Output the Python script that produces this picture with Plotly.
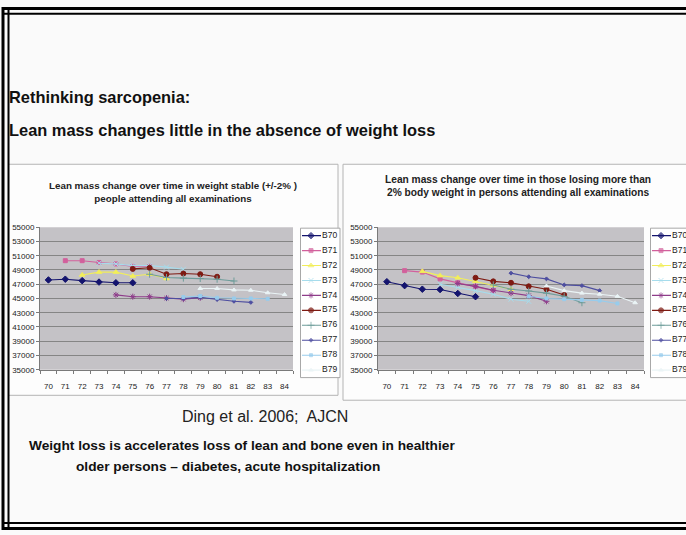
import plotly.graph_objects as go

W, H = 686, 535

ages = list(range(70, 85))
cohorts = ["B70", "B71", "B72", "B73", "B74", "B75", "B76", "B77", "B78", "B79"]
y_ticks = list(range(35000, 55001, 2000))

# Left chart: weight stable (+/-2%) – each cohort Bxx measured at ages xx .. xx+5
stable_b70 = [47600, 47700, 47500, 47300, 47200, 47200]
stable_b71 = [50300, 50300, 50050, 49850, 49500, 49500]
stable_b72 = [48300, 48700, 48700, 48150, 48400, 47800]
stable_b73 = [49950, 49850, 49600, 49600, 49400, 49100]
stable_b74 = [45500, 45250, 45250, 45050, 44900, 45100]
stable_b75 = [49150, 49300, 48400, 48500, 48400, 48050]
stable_b76 = [48400, 47950, 47850, 47800, 47700, 47450]
stable_b77 = [45000, 45000, 45150, 44850, 44600, 44450]
stable_b78 = [45200, 45350, 45100, 45000, 45000, 44950]
stable_b79 = [46400, 46400, 46200, 46150, 45800, 45550]

# Right chart: losing more than 2% body weight
loss_b70 = [47350, 46800, 46300, 46250, 45700, 45250]
loss_b71 = [48900, 48700, 47750, 47200, 46700, 46100]
loss_b72 = [48800, 48200, 47900, 47400, 46900, 46300]
loss_b73 = [47000, 46600, 46100, 45600, 44900, 44600]
loss_b74 = [47100, 46700, 46150, 45750, 45400, 44600]
loss_b75 = [47900, 47400, 47200, 46700, 46300, 45500]
loss_b76 = [46900, 46300, 46050, 45750, 45300, 44400]
loss_b77 = [48550, 48050, 47750, 46900, 46800, 46100]
loss_b78 = [45300, 45000, 44900, 44800, 44700, 44300]
loss_b79 = [46750, 46100, 45750, 45600, 45300, 44400]

stable = [stable_b70, stable_b71, stable_b72, stable_b73, stable_b74,
          stable_b75, stable_b76, stable_b77, stable_b78, stable_b79]
loss = [loss_b70, loss_b71, loss_b72, loss_b73, loss_b74,
        loss_b75, loss_b76, loss_b77, loss_b78, loss_b79]

colors = ["#14146e", "#d2609c", "#f2ee5a", "#a6dcec", "#8e3c8a",
          "#7e1a12", "#6e9c9a", "#4e4ea0", "#98ccec", "#eaf4f6"]
symbols = ["diamond", "square", "triangle-up", "x-thin-open", "asterisk-open",
           "circle", "cross-thin-open", "diamond", "square", "triangle-up"]
sizes = [5, 4, 5, 5, 5, 5, 5, 3, 3, 4]


def px(x):
    return x / W


def py(y):
    return 1 - y / H


TXT = "Liberation Sans"
BOLD_T = "Liberation Sans"

fig = go.Figure()

# ---- data traces
for side, data in ((1, stable), (2, loss)):
    xa = "x" if side == 1 else "x2"
    ya = "y" if side == 1 else "y2"
    for k, vals in enumerate(data):
        fig.add_trace(go.Scatter(
            x=ages[k:k + len(vals)], y=vals, xaxis=xa, yaxis=ya,
            mode="lines+markers", name=cohorts[k], showlegend=False,
            line=dict(color=colors[k], width=1.1),
            marker=dict(symbol=symbols[k], size=sizes[k], color=colors[k],
                        line=dict(color=colors[k], width=1)),
        ))

# ---- legends drawn as small subplots
for side in (1, 2):
    xa = "x3" if side == 1 else "x4"
    ya = "y3" if side == 1 else "y4"
    for k, name in enumerate(cohorts):
        fig.add_trace(go.Scatter(
            x=[1, 10, 20], y=[k, k, k], xaxis=xa, yaxis=ya, mode="lines+markers",
            showlegend=False, hoverinfo="skip", cliponaxis=False,
            line=dict(color=colors[k], width=1.1),
            marker=dict(symbol=symbols[k], size=[0, sizes[k], 0], color=colors[k],
                        line=dict(color=colors[k], width=1)),
        ))
    fig.add_trace(go.Scatter(
        x=[21] * len(cohorts), y=list(range(len(cohorts))), xaxis=xa, yaxis=ya,
        mode="text", text=cohorts, textposition="middle right", cliponaxis=False,
        showlegend=False, hoverinfo="skip",
        textfont=dict(family=TXT, size=8.5, color="#222"),
    ))

axis_common = dict(showgrid=False, zeroline=False)
x_common = dict(range=[69.5, 84.5], tickvals=ages, ticktext=[str(a) for a in ages],
                ticks="", showline=True, linecolor="#7a7a7a", linewidth=1,
                ticklabelstandoff=9,
                tickfont=dict(family=TXT, size=8, color="#222"),
                minor=dict(tickvals=[a + 0.5 for a in ages[:-1]] + [69.5, 84.5],
                           ticks="outside", ticklen=3, tickcolor="#7a7a7a"),
                **axis_common)
y_common = dict(range=[35000, 55000], tickvals=y_ticks, ticktext=[str(v) for v in y_ticks],
                ticks="outside", ticklen=3, tickcolor="#7a7a7a",
                showline=True, linecolor="#7a7a7a", linewidth=1,
                showgrid=True, gridcolor="#858585", gridwidth=1, zeroline=False,
                tickfont=dict(family=TXT, size=8, color="#222"))

y_dom = [py(372), py(227)]
fig.update_layout(
    xaxis=dict(domain=[px(40), px(293)], anchor="y", **x_common),
    yaxis=dict(domain=y_dom, anchor="x", **y_common),
    xaxis2=dict(domain=[px(378), px(644)], anchor="y2", **x_common),
    yaxis2=dict(domain=y_dom, anchor="x2", **y_common),
    xaxis3=dict(domain=[px(301), px(340)], range=[0, 39], visible=False, anchor="y3"),
    yaxis3=dict(domain=[py(380), py(228)], range=[9.5, -0.5], visible=False, anchor="x3"),
    xaxis4=dict(domain=[px(651), 1.0], range=[0, 35], visible=False, anchor="y4"),
    yaxis4=dict(domain=[py(380), py(228)], range=[9.5, -0.5], visible=False, anchor="x4"),
)

shapes = []
# chart boxes
shapes.append(dict(type="rect", xref="paper", yref="paper", x0=px(8), x1=px(338),
                   y0=py(398), y1=py(163), fillcolor="#fdfdfd",
                   line=dict(color="#b4b4b4", width=1), layer="below"))
shapes.append(dict(type="rect", xref="paper", yref="paper", x0=px(343), x1=px(692),
                   y0=py(403), y1=py(163), fillcolor="#fdfdfd",
                   line=dict(color="#b4b4b4", width=1), layer="below"))
# plot areas (gray)
for xa, ya in (("x", "y"), ("x2", "y2")):
    shapes.append(dict(type="rect", xref=xa + " domain", yref=ya + " domain",
                       x0=0, x1=1, y0=0, y1=1, fillcolor="#c4c2c6",
                       line=dict(width=0), layer="below"))
# legend boxes
shapes.append(dict(type="rect", xref="paper", yref="paper", x0=px(300.5), x1=px(340),
                   y0=py(380), y1=py(228), fillcolor="#ffffff",
                   line=dict(color="#a8a8a8", width=1), layer="below"))
shapes.append(dict(type="rect", xref="paper", yref="paper", x0=px(650.5), x1=px(692),
                   y0=py(380), y1=py(228), fillcolor="#ffffff",
                   line=dict(color="#a8a8a8", width=1), layer="below"))
# slide frame
shapes.append(dict(type="rect", xref="paper", yref="paper", x0=0, x1=px(8),
                   y0=0, y1=1, fillcolor="#fafafa", line=dict(width=0), layer="above"))
for y, w in ((4.5, 3), (10, 2), (528, 2), (533.5, 3)):
    shapes.append(dict(type="line", xref="paper", yref="paper", x0=px(2), x1=1.02,
                       y0=py(y), y1=py(y), line=dict(color="#000", width=w), layer="above"))
for x, w in ((3, 3), (8.5, 2)):
    shapes.append(dict(type="line", xref="paper", yref="paper", x0=px(x), x1=px(x),
                       y0=py(535), y1=py(3), line=dict(color="#000", width=w), layer="above"))

annotations = [
    dict(text="<b>Rethinking sarcopenia:</b>", x=px(7), y=py(95),
         font=dict(family=BOLD_T, size=16.4, color="#111")),
    dict(text="<b>Lean mass changes little in the absence of weight loss</b>", x=px(7), y=py(128),
         font=dict(family=BOLD_T, size=16.4, color="#111")),
    dict(text="<b>Lean mass change over time in weight stable (+/-2% )<br>people attending all examinations</b>",
         x=px(173), y=py(191), xanchor="center", align="center",
         font=dict(family=BOLD_T, size=9.8, color="#222")),
    dict(text="<b>Lean mass change over time in those losing more than<br>2% body weight in persons attending all examinations</b>",
         x=px(518), y=py(185), xanchor="center", align="center",
         font=dict(family=BOLD_T, size=10.2, color="#222")),
    dict(text="Ding et al. 2006;&nbsp; AJCN", x=px(180), y=py(420),
         font=dict(family=TXT, size=16, color="#222")),
    dict(text="<b>Weight loss is accelerates loss of lean and bone even in healthier</b>",
         x=px(27), y=py(449), font=dict(family=BOLD_T, size=13.7, color="#111")),
    dict(text="<b>older persons – diabetes, acute hospitalization</b>",
         x=px(74), y=py(470), font=dict(family=BOLD_T, size=13.7, color="#111")),
]
for a in annotations:
    a.setdefault("xanchor", "left")
    a.update(xref="paper", yref="paper", yanchor="middle", showarrow=False)

fig.update_layout(
    width=W, height=H, margin=dict(l=0, r=0, t=0, b=0),
    paper_bgcolor="#fafafa", plot_bgcolor="rgba(0,0,0,0)",
    showlegend=False, shapes=shapes, annotations=annotations,
    font=dict(family=TXT), hovermode=False,
)

fig.write_html(
    "out.html",
    config={"displayModeBar": False, "staticPlot": True},
    post_script="document.body.style.margin='0';document.body.style.overflow='hidden';",
)
